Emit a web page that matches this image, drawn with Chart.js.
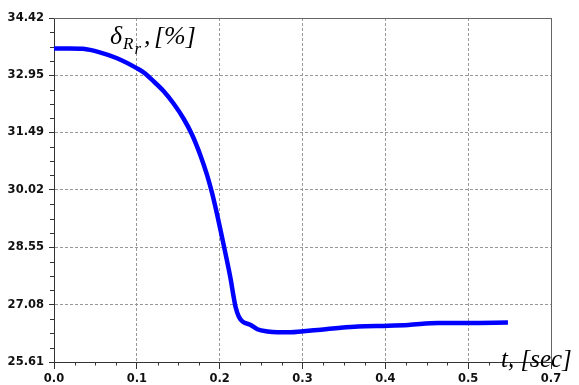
<!DOCTYPE html>
<html><head><meta charset="utf-8">
<script src="https://cdn.jsdelivr.net/npm/chart.js@4"></script>
<style>html,body{margin:0;padding:0;background:#fff;}#wrap{width:579px;height:385px;position:relative;}</style>
</head><body><div id="wrap"><canvas id="c" width="579" height="385"></canvas></div>
<script>
const timeSec = [0, 0.019, 0.035, 0.0552, 0.0761, 0.1003, 0.110, 0.1181, 0.1322, 0.1443, 0.1565, 0.1667, 0.1768, 0.1849, 0.1909, 0.1970, 0.2031, 0.2071, 0.2131, 0.2171, 0.2192, 0.2232, 0.2274, 0.2374, 0.2455, 0.2577, 0.2699, 0.286, 0.2982, 0.3184, 0.3427, 0.367, 0.4034, 0.4277, 0.464, 0.5005, 0.548];
const deltaRr = [33.64, 33.64, 33.63, 33.54, 33.39, 33.13, 33.00, 32.84, 32.55, 32.23, 31.84, 31.43, 30.90, 30.39, 29.93, 29.38, 28.78, 28.38, 27.75, 27.25, 27.02, 26.77, 26.65, 26.56, 26.45, 26.39, 26.37, 26.37, 26.39, 26.43, 26.48, 26.52, 26.54, 26.56, 26.61, 26.61, 26.62];
const xTickValues = [0, 0.1, 0.2, 0.3, 0.4, 0.5, 0.6];
const xTickLabels = ['0.0', '0.1', '0.2', '0.3', '0.4', '0.5', '0.7'];
const yTickValues = [25.61, 27.08, 28.55, 30.02, 31.49, 32.95, 34.42];
const yTickLabels = ['25.61', '27.08', '28.55', '30.02', '31.49', '32.95', '34.42'];
const yAxisTitle = ['\u03B4', 'R', 'r', ',', '[%]'];
const xAxisTitle = 't, [sec]';

const points = timeSec.map((t, i) => ({x: t, y: deltaRr[i]}));
const tickFont = {family: 'DejaVu Sans', size: 11.5, weight: 'bold'};

const extras = {
  id: 'extras',
  beforeDatasetsDraw(chart) {
    const {ctx, chartArea: a, scales: {x, y}} = chart;
    ctx.save();
    ctx.strokeStyle = '#666';
    ctx.lineWidth = 1;
    ctx.beginPath();
    ctx.moveTo(a.left, Math.round(a.top) + 0.5);
    ctx.lineTo(a.right + 0.5, Math.round(a.top) + 0.5);
    ctx.moveTo(Math.round(a.right) + 0.5, a.top);
    ctx.lineTo(Math.round(a.right) + 0.5, a.bottom);
    ctx.stroke();
    ctx.strokeStyle = '#333';
    ctx.beginPath();
    for (let k = 0; k < xTickValues.length - 1; k++) {
      const s = (xTickValues[k + 1] - xTickValues[k]) / 4;
      for (let j = 1; j < 4; j++) {
        const px = Math.round(x.getPixelForValue(xTickValues[k] + j * s)) + 0.5;
        ctx.moveTo(px, a.bottom);
        ctx.lineTo(px, a.bottom + 3.5);
      }
    }
    for (let k = 0; k < yTickValues.length - 1; k++) {
      const s = (yTickValues[k + 1] - yTickValues[k]) / 4;
      for (let j = 1; j < 4; j++) {
        const py = Math.round(y.getPixelForValue(yTickValues[k] + j * s)) + 0.5;
        ctx.moveTo(a.left, py);
        ctx.lineTo(a.left - 4, py);
      }
    }
    ctx.stroke();
    ctx.restore();
  },
  afterDraw(chart) {
    const {ctx} = chart;
    ctx.save();
    ctx.fillStyle = '#000';
    ctx.textBaseline = 'alphabetic';
    ctx.textAlign = 'left';
    ctx.font = 'italic 26px "Liberation Serif"';
    ctx.fillText(yAxisTitle[0], 110, 43.5);
    ctx.font = 'italic 17px "Liberation Serif"';
    ctx.fillText(yAxisTitle[1], 123, 48.5);
    ctx.fillText(yAxisTitle[2], 134.5, 54);
    ctx.font = 'italic 26px "Liberation Serif"';
    ctx.fillText(yAxisTitle[3], 144, 44);
    ctx.fillText(yAxisTitle[4], 154, 44);
    ctx.font = 'italic 25px "Liberation Serif"';
    ctx.fillText(xAxisTitle, 501, 367);
    ctx.restore();
  }
};

new Chart(document.getElementById('c'), {
  type: 'line',
  data: {datasets: [{data: points, borderColor: '#0000ff', borderWidth: 4.5, pointRadius: 0, fill: false, cubicInterpolationMode: 'monotone'}]},
  options: {
    responsive: false, animation: false, devicePixelRatio: 1,
    layout: {padding: {left: 0, right: 28, top: 18, bottom: 0}},
    plugins: {legend: {display: false}, tooltip: {enabled: false}},
    scales: {
      x: {
        type: 'linear', min: 0, max: 0.6,
        afterBuildTicks: s => { s.ticks = xTickValues.map(v => ({value: v})); },
        afterFit: s => { s.height = 23; },
        ticks: {callback: (v, i) => xTickLabels[i], font: tickFont, color: '#111', padding: 3, maxRotation: 0, autoSkip: false},
        grid: {color: '#999', lineWidth: 1, tickLength: 7, tickColor: '#333', drawTicks: true},
        border: {dash: [3, 2], color: '#333', width: 1}
      },
      y: {
        type: 'linear', min: 25.61, max: 34.42,
        afterBuildTicks: s => { s.ticks = yTickValues.map(v => ({value: v})); },
        afterFit: s => { s.width = 54; },
        ticks: {callback: (v, i) => yTickLabels[i], font: tickFont, color: '#111', padding: 5, autoSkip: false},
        grid: {color: '#999', lineWidth: 1, tickLength: 5, tickColor: '#333', drawTicks: true},
        border: {dash: [3, 2], color: '#333', width: 1}
      }
    }
  },
  plugins: [extras]
});
</script></body></html>
